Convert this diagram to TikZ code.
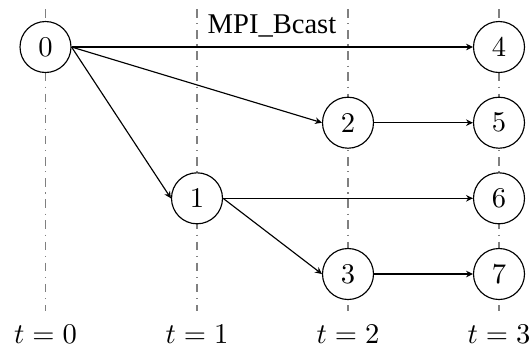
\documentclass[tikz,border=0pt]{standalone}
\usepackage{fontspec}
\newfontfamily\labelfont{Liberation Serif}
\usetikzlibrary{arrows.meta}
\begin{document}
\begin{tikzpicture}[x=0.35pt,y=-0.35pt,
  proc/.style={circle,draw,fill=white,inner sep=0pt,minimum size=17.85pt,font=\fontsize{10}{12}\selectfont},
  timeline/.style={gray,dash dot},
  msg/.style={-{Stealth[length=2.4pt,width=2.3pt]}},
  tlabel/.style={anchor=base,inner sep=0pt}]
\useasboundingbox (0,0) rectangle (530,347);
% time lines
\foreach \x/\n in {45.5/0,197/1,348/2,499/3}{
  \coordinate (top\n) at (\x,9);
  \coordinate (bot\n) at (\x,311);
  \draw[timeline] (top\n) -- (bot\n);
  \node[tlabel] (t\n) at (\x,343) {$t=\n$};
}
% processes
\node[proc] (p0) at (45.5,47) {0};
\node[proc] (p1) at (197,198.3) {1};
\node[proc] (p2) at (348,122.7) {2};
\node[proc] (p3) at (348,274) {3};
\node[proc] (p4) at (499,47) {4};
\node[proc] (p5) at (499,122.7) {5};
\node[proc] (p6) at (499,198.3) {6};
\node[proc] (p7) at (499,274) {7};
\node[anchor=base,inner sep=0pt,font=\labelfont] (title) at (272,33) {MPI\_Bcast};
% messages
\draw[msg] (p0.east) -- (p4.west);
\draw[msg] (p0.east) -- (p2.west);
\draw[msg] (p0.east) -- (p1.west);
\draw[msg] (p2.east) -- (p5.west);
\draw[msg] (p1.east) -- (p6.west);
\draw[msg] (p1.east) -- (p3.west);
\draw[msg] (p3.east) -- (p7.west);
\end{tikzpicture}
\end{document}
